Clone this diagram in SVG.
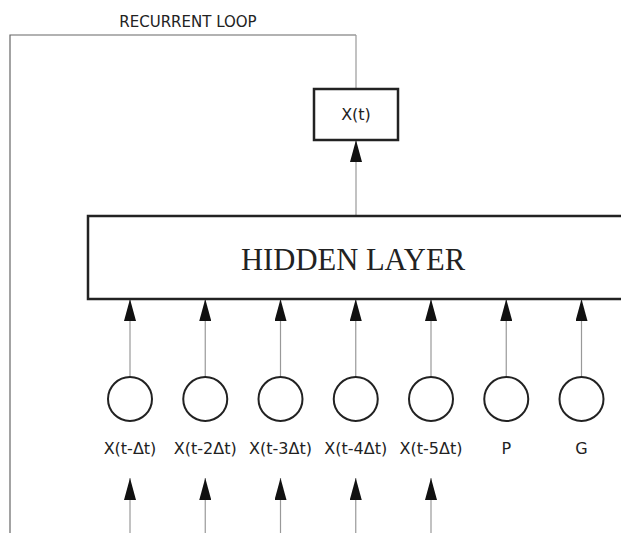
<svg xmlns="http://www.w3.org/2000/svg" width="621" height="533" viewBox="0 0 621 533">
  <style>
    .sans { font-family: "DejaVu Sans", "Liberation Sans", sans-serif; fill: #222; }
    .serif { font-family: "Liberation Serif", "Times New Roman", serif; fill: #222; }
    .box { fill: #fff; stroke: #222; stroke-width: 2.5; }
    .unit { fill: #fff; stroke: #222; stroke-width: 2; }
    .wire { stroke: #999; stroke-width: 1.2; fill: none; }
    .loop { stroke: #666; stroke-width: 1.2; fill: none; }
  </style>
  <defs>
    <marker id="head" viewBox="0 -6 22 12" refX="22" refY="0" markerWidth="22" markerHeight="12" markerUnits="userSpaceOnUse" orient="auto">
      <path d="M0,-6 L22,0 L0,6 Z" fill="#111"/>
    </marker>
  </defs>
  <rect width="621" height="533" fill="#fff"/>

  <g id="connectors">
    <!-- recurrent loop from output back down the left side -->
    <path class="loop" d="M356,35 H10 V533"/>
    <line class="wire" x1="356" y1="35" x2="356" y2="89"/>
    <!-- hidden layer to output -->
    <line class="wire" x1="356" y1="216" x2="356" y2="140" marker-end="url(#head)"/>
    <!-- input units to hidden layer -->
    <line class="wire" x1="130" y1="377" x2="130" y2="299" marker-end="url(#head)"/>
    <line class="wire" x1="205.25" y1="377" x2="205.25" y2="299" marker-end="url(#head)"/>
    <line class="wire" x1="280.5" y1="377" x2="280.5" y2="299" marker-end="url(#head)"/>
    <line class="wire" x1="355.75" y1="377" x2="355.75" y2="299" marker-end="url(#head)"/>
    <line class="wire" x1="431" y1="377" x2="431" y2="299" marker-end="url(#head)"/>
    <line class="wire" x1="506.25" y1="377" x2="506.25" y2="299" marker-end="url(#head)"/>
    <line class="wire" x1="581.5" y1="377" x2="581.5" y2="299" marker-end="url(#head)"/>
    <!-- delayed inputs feeding the lag units -->
    <line class="wire" x1="130" y1="533" x2="130" y2="478" marker-end="url(#head)"/>
    <line class="wire" x1="205.25" y1="533" x2="205.25" y2="478" marker-end="url(#head)"/>
    <line class="wire" x1="280.5" y1="533" x2="280.5" y2="478" marker-end="url(#head)"/>
    <line class="wire" x1="355.75" y1="533" x2="355.75" y2="478" marker-end="url(#head)"/>
    <line class="wire" x1="431" y1="533" x2="431" y2="478" marker-end="url(#head)"/>
  </g>

  <text class="sans" x="188" y="27" font-size="15" text-anchor="middle">RECURRENT LOOP</text>

  <g id="output">
    <rect class="box" x="314" y="89" width="84" height="51"/>
    <text class="sans" x="356" y="120" font-size="16" text-anchor="middle">X(t)</text>
  </g>

  <g id="hidden-layer">
    <rect class="box" x="88" y="216" width="560" height="83"/>
    <text class="serif" x="241" y="270" font-size="30.6">HIDDEN LAYER</text>
  </g>

  <g id="in-1">
    <circle class="unit" cx="130" cy="399" r="22"/>
    <text class="sans" x="130" y="454" font-size="16" text-anchor="middle">X(t-Δt)</text>
  </g>
  <g id="in-2">
    <circle class="unit" cx="205.25" cy="399" r="22"/>
    <text class="sans" x="205.25" y="454" font-size="16" text-anchor="middle">X(t-2Δt)</text>
  </g>
  <g id="in-3">
    <circle class="unit" cx="280.5" cy="399" r="22"/>
    <text class="sans" x="280.5" y="454" font-size="16" text-anchor="middle">X(t-3Δt)</text>
  </g>
  <g id="in-4">
    <circle class="unit" cx="355.75" cy="399" r="22"/>
    <text class="sans" x="355.75" y="454" font-size="16" text-anchor="middle">X(t-4Δt)</text>
  </g>
  <g id="in-5">
    <circle class="unit" cx="431" cy="399" r="22"/>
    <text class="sans" x="431" y="454" font-size="16" text-anchor="middle">X(t-5Δt)</text>
  </g>
  <g id="in-p">
    <circle class="unit" cx="506.25" cy="399" r="22"/>
    <text class="sans" x="506.25" y="454" font-size="16" text-anchor="middle">P</text>
  </g>
  <g id="in-g">
    <circle class="unit" cx="581.5" cy="399" r="22"/>
    <text class="sans" x="581.5" y="454" font-size="16" text-anchor="middle">G</text>
  </g>
</svg>
